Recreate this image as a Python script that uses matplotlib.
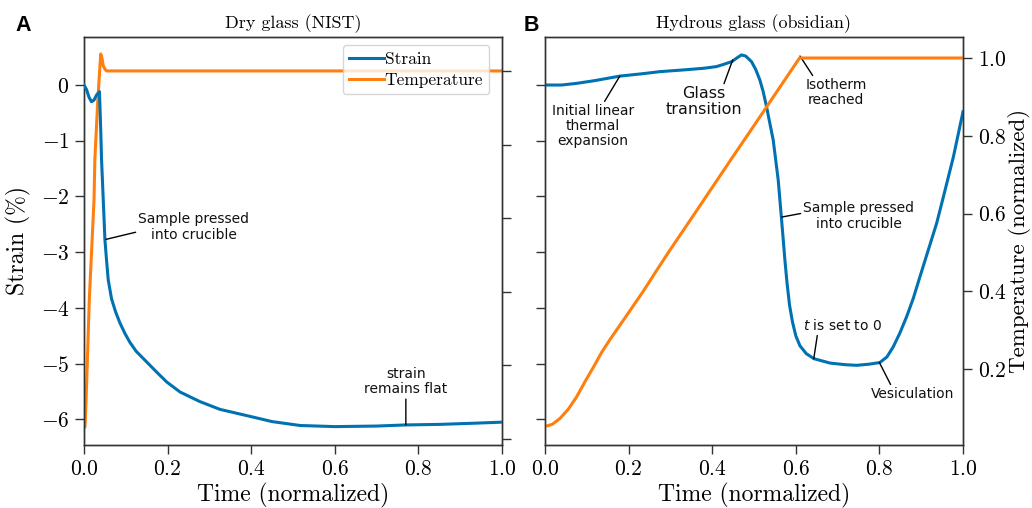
import matplotlib
matplotlib.use("Agg")
import matplotlib.pyplot as plt

plt.rcParams['font.family'] = 'serif'
plt.rcParams['font.serif'] = ['cmr10']
plt.rcParams['mathtext.fontset'] = 'cm'
plt.rcParams['axes.formatter.use_mathtext'] = True
plt.rcParams['axes.unicode_minus'] = True

BLUE = '#0072b2'
ORANGE = '#ff7f0e'

# ---- Panel A : dry glass (NIST) ----
time_a_strain = [0, 0.006, 0.012, 0.018, 0.024, 0.030, 0.037, 0.040, 0.042, 0.046,
                 0.050, 0.054, 0.058, 0.066, 0.076, 0.086, 0.098, 0.110, 0.125, 0.150,
                 0.175, 0.198, 0.230, 0.277, 0.325, 0.365, 0.405, 0.450, 0.517, 0.600,
                 0.700, 0.770, 0.850, 0.930, 1.0]
strain_a = [0, -0.08, -0.22, -0.30, -0.27, -0.18, -0.12, -0.80, -1.34, -2.05,
            -2.77, -3.15, -3.50, -3.84, -4.08, -4.27, -4.46, -4.62, -4.78, -4.97,
            -5.16, -5.33, -5.51, -5.68, -5.82, -5.89, -5.96, -6.04, -6.11, -6.13,
            -6.12, -6.10, -6.09, -6.07, -6.05]

time_a_temp = [0, 0.0024, 0.005, 0.0127, 0.024, 0.026, 0.033, 0.040, 0.043, 0.046,
               0.050, 0.054, 0.2, 0.4, 0.6, 0.8, 1.0]
temp_a = [0.03, 0.033, 0.106, 0.379, 0.651, 0.76, 0.92, 1.046, 1.035, 1.014,
          1.005, 1.0, 1.0, 1.0, 1.0, 1.0, 1.0]

# ---- Panel B : hydrous glass (obsidian) ----
time_b_strain = [0, 0.04, 0.076, 0.12, 0.179, 0.23, 0.275, 0.33, 0.379, 0.41,
                 0.427, 0.447, 0.458, 0.470, 0.480, 0.494, 0.504, 0.514, 0.522, 0.530,
                 0.546, 0.558, 0.566, 0.570, 0.574, 0.579, 0.585, 0.592, 0.600, 0.610,
                 0.625, 0.643, 0.682, 0.72, 0.746, 0.775, 0.801, 0.818, 0.833, 0.849,
                 0.865, 0.881, 0.897, 0.917, 0.937, 0.955, 0.977, 1.0]
strain_b = [0.0, 0.0, 0.03, 0.08, 0.16, 0.20, 0.24, 0.27, 0.30, 0.33,
            0.37, 0.42, 0.48, 0.54, 0.52, 0.42, 0.28, 0.09, -0.12, -0.39,
            -0.99, -1.71, -2.42, -2.78, -3.15, -3.55, -3.95, -4.25, -4.50, -4.68,
            -4.82, -4.91, -4.99, -5.02, -5.03, -5.01, -4.98, -4.88, -4.70, -4.45,
            -4.16, -3.83, -3.44, -2.96, -2.48, -1.95, -1.29, -0.48]

time_b_temp = [0, 0.018, 0.036, 0.056, 0.076, 0.096, 0.116, 0.135, 0.155, 0.2,
               0.235, 0.271, 0.299, 0.35, 0.4, 0.45, 0.5, 0.55, 0.609, 0.65, 0.8, 1.0]
temp_b = [0.052, 0.058, 0.073, 0.097, 0.129, 0.168, 0.205, 0.242, 0.275, 0.345,
          0.40, 0.46, 0.506, 0.587, 0.667, 0.747, 0.826, 0.906, 1.0, 1.0, 1.0, 1.0]

x_ticks = [0.0, 0.2, 0.4, 0.6, 0.8, 1.0]
strain_ticks = [-6, -5, -4, -3, -2, -1, 0]
temp_ticks_a = [0.0, 0.2, 0.4, 0.6, 0.8, 1.0]
temp_ticks_b = [0.2, 0.4, 0.6, 0.8, 1.0]

W, H = 1032, 508
fig = plt.figure(figsize=(W / 100, H / 100), dpi=100)

def px_axes(l, r, t, b):
    return fig.add_axes([l / W, 1 - b / H, (r - l) / W, (b - t) / H])

axA = px_axes(84, 502, 36.7, 445)
axB = px_axes(545, 963, 36.7, 445)

SPINE = '#333333'
TICKFS = 15.5
LABELFS = 17

def style(ax):
    for s in ax.spines.values():
        s.set_color(SPINE)
        s.set_linewidth(1.0)
    ax.tick_params(direction='out', length=6.5, width=1.0, color=SPINE,
                   labelsize=TICKFS, pad=4)

STRAIN_LIM = (-6.46, 0.867)

# Panel A
lA1, = axA.plot(time_a_strain, strain_a, color=BLUE, lw=2.2, label='Strain', zorder=3)
axA.set_xlim(0, 1)
axA.set_ylim(*STRAIN_LIM)
axA.set_xticks(x_ticks)
axA.set_yticks(strain_ticks)
axA.set_xlabel('Time (normalized)', fontsize=LABELFS, labelpad=3)
axA.set_ylabel('Strain (%)', fontsize=LABELFS, labelpad=7)
axA.set_title('Dry glass (NIST)', fontsize=13, pad=6)
style(axA)
axA2 = axA.twinx()
lA2, = axA2.plot(time_a_temp, temp_a, color=ORANGE, lw=2.2, label='Temperature')
axA2.set_ylim(-0.0163, 1.093)
axA2.set_yticks(temp_ticks_a)
axA2.set_yticklabels([])
style(axA2)
axA.set_zorder(axA2.get_zorder() + 1)
axA.patch.set_visible(False)

leg = axA.legend([lA1, lA2], ['Strain', 'Temperature'], loc='upper right',
                 fontsize=12.5, handlelength=2.0, handletextpad=0.05,
                 borderpad=0.35, labelspacing=0.35, framealpha=0.8,
                 edgecolor='#cccccc', bbox_to_anchor=(0.99, 1.0))

ANN = dict(fontsize=10, family='DejaVu Sans', ha='center', va='center', color='#111111')
LINE = dict(arrowstyle='-', color='black', lw=1.0, shrinkA=0, shrinkB=0)

axA.annotate('Sample pressed\ninto crucible', xy=(0.0525, -2.77), xytext=(0.263, -2.55),
             arrowprops=dict(LINE, relpos=(0.0, 0.35)), linespacing=1.15, **ANN)
axA.annotate('strain\nremains flat', xy=(0.77, -6.10), xytext=(0.77, -5.32),
             arrowprops=dict(LINE, relpos=(0.5, 0.0)), linespacing=1.15, **ANN)

# Panel B
lB1, = axB.plot(time_b_strain, strain_b, color=BLUE, lw=2.2, zorder=3)
axB.set_xlim(0, 1)
axB.set_ylim(*STRAIN_LIM)
axB.set_xticks(x_ticks)
axB.set_yticks(strain_ticks)
axB.set_yticklabels([])
axB.set_xlabel('Time (normalized)', fontsize=LABELFS, labelpad=3)
axB.set_title('Hydrous glass (obsidian)', fontsize=13, pad=6)
style(axB)
axB2 = axB.twinx()
axB2.plot(time_b_temp, temp_b, color=ORANGE, lw=2.2)
axB2.set_ylim(0.0045, 1.0548)
axB2.set_yticks(temp_ticks_b)
axB2.set_ylabel('Temperature (normalized)', fontsize=16.5, labelpad=1)
style(axB2)

axB.annotate('Initial linear\nthermal\nexpansion', xy=(0.179, 0.16), xytext=(0.115, -0.74),
             arrowprops=dict(LINE, relpos=(0.62, 1.0)), linespacing=1.1, **ANN)
axB.annotate('Glass\ntransition', xy=(0.449, 0.45), xytext=(0.38, -0.30),
             arrowprops=dict(LINE, relpos=(0.75, 1.0)), linespacing=1.05,
             **dict(ANN, fontsize=11.5))
axB.annotate('Isotherm\nreached', xy=(0.61, 0.52), xytext=(0.696, -0.14),
             arrowprops=dict(LINE, relpos=(0.15, 1.0)), linespacing=1.1, **ANN)
axB.annotate('Sample pressed\ninto crucible', xy=(0.566, -2.37), xytext=(0.751, -2.35),
             arrowprops=dict(LINE, relpos=(0.0, 0.6)), linespacing=1.15, **ANN)
axB.annotate('$t$ is set to 0', xy=(0.643, -4.91), xytext=(0.713, -4.31),
             arrowprops=dict(LINE, relpos=(0.18, 0.0)), math_fontfamily='dejavusans', **ANN)
axB.annotate('Vesiculation', xy=(0.80, -4.98), xytext=(0.88, -5.55),
             arrowprops=dict(LINE, relpos=(0.25, 1.0)), **ANN)

fig.text(23.5 / W, 1 - 25.5 / H, 'A', family='Liberation Sans', weight='bold',
         fontsize=15.5, ha='center', va='center')
fig.text(531 / W, 1 - 25.5 / H, 'B', family='Liberation Sans', weight='bold',
         fontsize=15.5, ha='center', va='center')

fig.savefig('out.png', dpi=100)
